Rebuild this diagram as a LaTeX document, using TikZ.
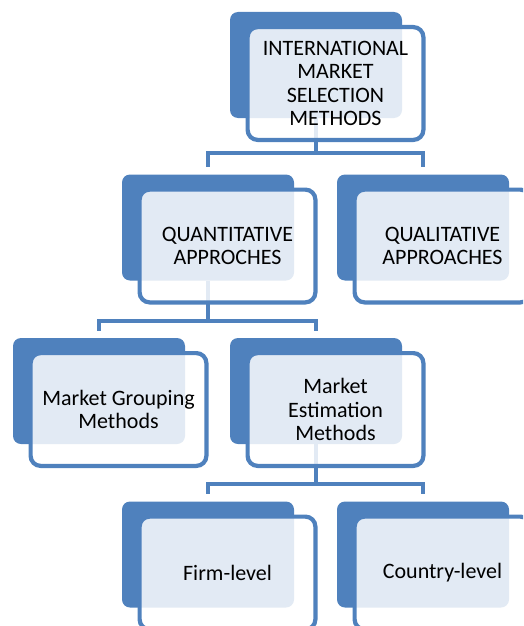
\documentclass[tikz,border=0pt]{standalone}
\usepackage{fontspec}
\setmainfont{Carlito}
\definecolor{smblue}{HTML}{4F81BD}
\tikzset{
  plate/.style={fill=smblue, rounded corners=8pt, minimum width=172pt,
    minimum height=106pt, inner sep=0pt},
  card/.style={draw=smblue, line width=4.2pt, rounded corners=10pt,
    fill=white, fill opacity=0.84, text opacity=1, shift={(19.5,18.5)},
    minimum width=175.8pt, minimum height=112.8pt, inner sep=2pt,
    align=center, font=\fontsize{22}{23.3}\selectfont},
  link/.style={draw=smblue, line width=4.2pt},
}

\begin{document}
\begin{tikzpicture}[x=1pt,y=-1pt]
   \useasboundingbox (0,0) rectangle (523,626);
   \clip (0,0) rectangle (523,626);
   % blue plates
   \node[plate] (ims)     at (316,65)    {};
   \node[plate] (quant)   at (208,227.5) {};
   \node[plate] (qual)    at (423,227.5) {};
   \node[plate] (group)   at (99,391)    {};
   \node[plate] (estim)   at (316,391)   {};
   \node[plate] (firm)    at (208,554.5) {};
   \node[plate] (country) at (423,554.5) {};
   % tree lines
   \coordinate (bus1) at (316,153);
   \coordinate (bus2) at (208,321);
   \coordinate (bus3) at (316,484);
   \draw[link] (ims.south) -- (bus1);
   \draw[link,shorten >=7pt] (bus1) -| (quant.north);
   \draw[link,shorten >=7pt] (bus1) -| (qual.north);
   \draw[link] (quant.south) -- (bus2);
   \draw[link,shorten >=7pt] (bus2) -| (group.north);
   \draw[link,shorten >=7pt] (bus2) -| (estim.north);
   \draw[link] (estim.south) -- (bus3);
   \draw[link,shorten >=7pt] (bus3) -| (firm.north);
   \draw[link,shorten >=7pt] (bus3) -| (country.north);
   % text boxes on top
   \node[card] (imsT)     at (ims)     {INTERNATIONAL\\MARKET\\SELECTION\\METHODS};
   \node[card] (quantT)   at (quant)   {QUANTITATIVE\\APPROCHES};
   \node[card] (qualT)    at (qual)    {QUALITATIVE\\APPROACHES};
   \node[card] (groupT)   at (group)   {Market Grouping\\Methods};
   \node[card] (estimT)   at (estim)   {Market\\Estimation\\Methods};
   \node[card] (firmT)    at (firm)    {Firm-level};
   \node[card] (countryT) at (country) {Country-level};
\end{tikzpicture}
\end{document}
